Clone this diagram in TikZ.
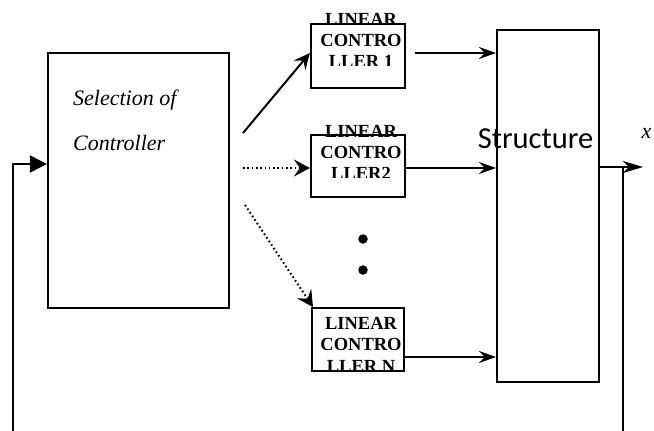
\documentclass[tikz,border=0pt]{standalone}
\usepackage{fontspec}
\newfontfamily\tnr{Liberation Serif}
\newfontfamily\calf{Carlito}
\usetikzlibrary{arrows.meta}
\begin{document}
\begin{tikzpicture}[x=1pt,y=-1pt,
  box/.style={draw, line width=2.2pt, inner sep=0pt},
  ctrltxt/.style={font=\tnr\bfseries\fontsize{18.5}{21}\selectfont, anchor=base, inner sep=0pt},
  itxt/.style={font=\tnr\itshape\fontsize{22}{26}\selectfont, anchor=base west, inner sep=0pt},
  arr/.style={line width=2pt, -{Stealth[length=16pt,width=15pt,inset=6pt]}},
  arrs/.style={line width=2pt, -{Stealth[length=17pt,width=12pt,inset=6pt]}},
  dotline/.style={line width=2pt, dash pattern=on 1.6pt off 2.7pt},
  ln/.style={line width=2pt},
  bigdot/.style={circle, fill, inner sep=0pt, minimum size=9.5pt}]
\useasboundingbox (0,0) rectangle (654,431);

% Selection box
\node[box, minimum width=181pt, minimum height=255pt] (sel) at (138.5,180.5) {};
\node[itxt] (selA) at (73,105) {Selection of};
\node[itxt] (selB) at (73,150) {Controller};

% Controller text (clipped)
\begin{scope}
\clip (300,0) rectangle (420,65.5);
\node[ctrltxt] (t1a) at (361,25.5) {LINEAR};
\node[ctrltxt] (t1b) at (361,46.5) {CONTRO};
\node[ctrltxt] (t1c) at (361,67.5) {LLER 1};
\end{scope}
\begin{scope}
\clip (300,100) rectangle (420,177);
\node[ctrltxt] (t2a) at (361,137.5) {LINEAR};
\node[ctrltxt] (t2b) at (361,158.5) {CONTRO};
\node[ctrltxt] (t2c) at (361,179.5) {LLER2};
\end{scope}
\begin{scope}
\clip (300,300) rectangle (420,369.5);
\node[ctrltxt] (tNa) at (361,329) {LINEAR};
\node[ctrltxt] (tNb) at (361,350.5) {CONTRO};
\node[ctrltxt] (tNc) at (361,372) {LLER N};
\end{scope}

% Controller boxes
\node[box, minimum width=94pt, minimum height=64pt] (c1) at (358,56) {};
\node[box, minimum width=94pt, minimum height=62pt] (c2) at (358,166) {};
\node[box, minimum width=92pt, minimum height=63pt] (cN) at (358,339.5) {};

% dots
\node[bigdot] (d1) at (363,239) {};
\node[bigdot] (d2) at (363,270) {};

% Structure
\node[draw, line width=2pt, minimum width=102pt, minimum height=352pt, inner sep=0pt] (st) at (548,206) {};
\node[font=\calf\fontsize{30.5}{36}\selectfont, anchor=base, inner sep=0pt] (stl) at (535.5,148) {Structure};
\node[itxt] (xl) at (641.5,138) {x};

% coordinates
\coordinate (s1) at (243,133);
\coordinate (e1) at (c1.west |- 0,53);
\coordinate (s2) at (243,168);
\coordinate (e2) at (c2.west |- 0,168);
\coordinate (sN) at (245,205);
\coordinate (eN) at (313,307);
\coordinate (o1) at (415,53);
\coordinate (i1) at (st.west |- 0,53);
\coordinate (o2) at (c2.east |- 0,168);
\coordinate (i2) at (st.west |- 0,168);
\coordinate (oN) at (cN.east |- 0,357);
\coordinate (iN) at (st.west |- 0,357);
\coordinate (so) at (st.east |- 0,167);
\coordinate (xo) at (643,167);
\coordinate (rb) at (623,431);
\coordinate (rt) at (623,167);
\coordinate (lb) at (13,431);
\coordinate (selin) at (sel.west |- 0,164);

% connectors
\draw[arr] (s1) -- (e1);
\draw[dotline, -{Stealth[length=16pt,width=17pt,inset=6pt]}] (s2) -- (e2);
\draw[dotline, -{Stealth[length=16pt,width=17pt,inset=6pt]}] (sN) -- (eN);
\draw[arrs] (o1) -- (i1);
\draw[arrs] (o2) -- (i2);
\draw[arrs] (oN) -- (iN);
\draw[line width=2pt, -{Stealth[length=20pt,width=12pt,inset=6pt]}] (so) -- (xo);
\draw[ln] (rt) -- (rb);
\draw[line width=2pt, -{Triangle[length=17pt,width=17pt]}] (lb) |- (selin);
\end{tikzpicture}
\end{document}
